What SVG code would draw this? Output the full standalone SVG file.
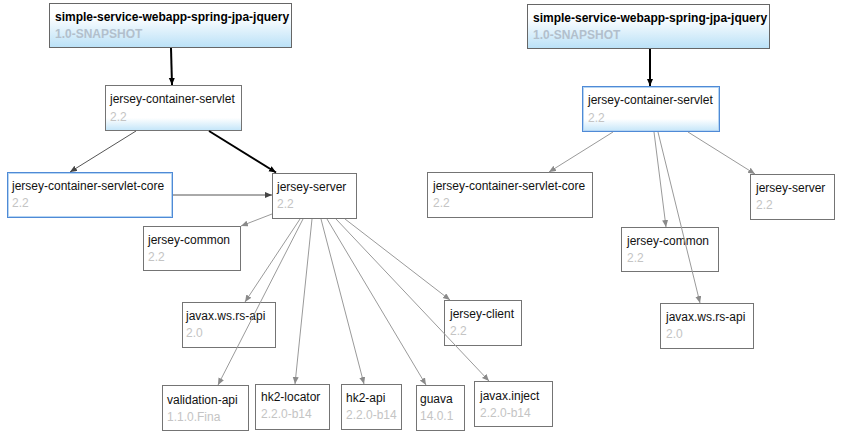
<svg xmlns="http://www.w3.org/2000/svg" width="841" height="440" viewBox="0 0 841 440">
<style>
text{font-family:"Liberation Sans",Arial,sans-serif;font-size:12px}
.n{fill:#111}
.v{fill:#c4c4c4}
.rn{fill:#000;font-weight:bold}
.rv{fill:#b2bfcc;font-weight:bold}
.box{fill:#fff;stroke:#747474;stroke-width:1}
.root{fill:url(#gRoot);stroke:#666;stroke-width:1}
.sel{stroke:#4f8ad6;stroke-width:1}
.selin{fill:none;stroke:#b5d5f3;stroke-width:1}
.eb{stroke:#000;stroke-width:2;fill:none;marker-end:url(#mB)}
.ed{stroke:#555;stroke-width:1;fill:none;marker-end:url(#mD)}
.eg{stroke:#9a9a9a;stroke-width:1;fill:none;marker-end:url(#mG)}
</style>
<defs>
<linearGradient id="gRoot" x1="0" y1="0" x2="0" y2="1">
<stop offset="0" stop-color="#fff"/><stop offset="0.3" stop-color="#fdfeff"/><stop offset="1" stop-color="#bae1f7"/>
</linearGradient>
<linearGradient id="gSel" x1="0" y1="0" x2="0" y2="1">
<stop offset="0" stop-color="#fff"/><stop offset="0.72" stop-color="#fff"/><stop offset="1" stop-color="#c3e5f9"/>
</linearGradient>
<marker id="mB" markerUnits="userSpaceOnUse" markerWidth="8" markerHeight="8" refX="7" refY="3" orient="auto"><path d="M0,0 L7,3 L0,6 z" fill="#000"/></marker>
<marker id="mD" markerUnits="userSpaceOnUse" markerWidth="8" markerHeight="8" refX="7" refY="3" orient="auto"><path d="M0,0 L7,3 L0,6 z" fill="#444"/></marker>
<marker id="mG" markerUnits="userSpaceOnUse" markerWidth="8" markerHeight="8" refX="7" refY="3" orient="auto"><path d="M0,0 L7,3 L0,6 z" fill="#8a8a8a"/></marker>
</defs>

<g id="root-left">
<rect class="root" x="49.5" y="3.5" width="242" height="44"/>
<text class="rn" x="55" y="21">simple-service-webapp-spring-jpa-jquery</text>
<text class="rv" x="55" y="38">1.0-SNAPSHOT</text>
</g>
<g id="servlet-left">
<rect class="box" x="105.5" y="85.5" width="136" height="45" style="fill:url(#gSel)"/>
<text class="n" x="110" y="103">jersey-container-servlet</text>
<text class="v" x="110" y="121">2.2</text>
</g>
<g id="core-left">
<rect class="box sel" x="7.5" y="172.5" width="165" height="45"/>
<rect class="selin" x="8.5" y="173.5" width="163" height="43"/>
<text class="n" x="12" y="190">jersey-container-servlet-core</text>
<text class="v" x="12" y="207">2.2</text>
</g>
<g id="server-left">
<rect class="box" x="272.5" y="173.5" width="84" height="45"/>
<text class="n" x="277" y="191">jersey-server</text>
<text class="v" x="277" y="208">2.2</text>
</g>
<g id="common-left">
<rect class="box" x="143.5" y="226.5" width="97" height="44"/>
<text class="n" x="148" y="244">jersey-common</text>
<text class="v" x="148" y="261">2.2</text>
</g>
<g id="rsapi-left">
<rect class="box" x="182.5" y="302.5" width="93" height="45"/>
<text class="n" x="186" y="320">javax.ws.rs-api</text>
<text class="v" x="186" y="337">2.0</text>
</g>
<g id="client-left">
<rect class="box" x="444.5" y="300.5" width="77" height="45"/>
<text class="n" x="450" y="318">jersey-client</text>
<text class="v" x="450" y="335">2.2</text>
</g>
<g id="validation-left">
<rect class="box" x="162.5" y="385.5" width="86" height="45"/>
<text class="n" x="167" y="404">validation-api</text>
<text class="v" x="167" y="421">1.1.0.Fina</text>
</g>
<g id="locator-left">
<rect class="box" x="255.5" y="384.5" width="74" height="45"/>
<text class="n" x="261" y="401">hk2-locator</text>
<text class="v" x="261" y="418">2.2.0-b14</text>
</g>
<g id="hk2api-left">
<rect class="box" x="341.5" y="384.5" width="60" height="45"/>
<text class="n" x="346" y="402">hk2-api</text>
<text class="v" x="346" y="419">2.2.0-b14</text>
</g>
<g id="guava-left">
<rect class="box" x="416.5" y="385.5" width="48" height="45"/>
<text class="n" x="420" y="403">guava</text>
<text class="v" x="420" y="420">14.0.1</text>
</g>
<g id="inject-left">
<rect class="box" x="474.5" y="381.5" width="78" height="45"/>
<text class="n" x="480" y="400">javax.inject</text>
<text class="v" x="480" y="417">2.2.0-b14</text>
</g>

<g id="root-right">
<rect class="root" x="527.5" y="4.5" width="242" height="44"/>
<text class="rn" x="533" y="22">simple-service-webapp-spring-jpa-jquery</text>
<text class="rv" x="533" y="39">1.0-SNAPSHOT</text>
</g>
<g id="servlet-right">
<rect class="box sel" x="582.5" y="86.5" width="137" height="45" style="fill:url(#gSel)"/>
<rect class="selin" x="583.5" y="87.5" width="135" height="43"/>
<text class="n" x="588" y="104">jersey-container-servlet</text>
<text class="v" x="588" y="122">2.2</text>
</g>
<g id="core-right">
<rect class="box" x="427.5" y="172.5" width="165" height="45"/>
<text class="n" x="433" y="190">jersey-container-servlet-core</text>
<text class="v" x="433" y="207">2.2</text>
</g>
<g id="server-right">
<rect class="box" x="750.5" y="174.5" width="84" height="45"/>
<text class="n" x="756" y="192">jersey-server</text>
<text class="v" x="756" y="209">2.2</text>
</g>
<g id="common-right">
<rect class="box" x="621.5" y="227.5" width="97" height="44"/>
<text class="n" x="627" y="245">jersey-common</text>
<text class="v" x="627" y="262">2.2</text>
</g>
<g id="rsapi-right">
<rect class="box" x="660.5" y="303.5" width="93" height="45"/>
<text class="n" x="666" y="321">javax.ws.rs-api</text>
<text class="v" x="666" y="338">2.0</text>
</g>

<g id="connectors">
<path class="eb" d="M171,48 L172,85"/>
<path class="ed" d="M136,131 L70,172"/>
<path class="eb" d="M209,131 L276,172.5"/>
<path class="ed" d="M173,195 L272,195"/>
<path class="eg" d="M272,214 L241,226"/>
<path class="eg" d="M300,219 L245,302"/>
<path class="eg" d="M303,219 L218,385"/>
<path class="eg" d="M312,219 L295,384"/>
<path class="eg" d="M321,219 L364,384"/>
<path class="eg" d="M327,219 L426,385"/>
<path class="eg" d="M336,219 L489,381"/>
<path class="eg" d="M345,219 L450,300"/>
<path class="eb" d="M650,49 L650,86"/>
<path class="eg" d="M613,132 L549,172"/>
<path class="eg" d="M654,132 L666,227"/>
<path class="eg" d="M658,132 L700,303"/>
<path class="eg" d="M688,132 L755,174"/>
</g>
</svg>
